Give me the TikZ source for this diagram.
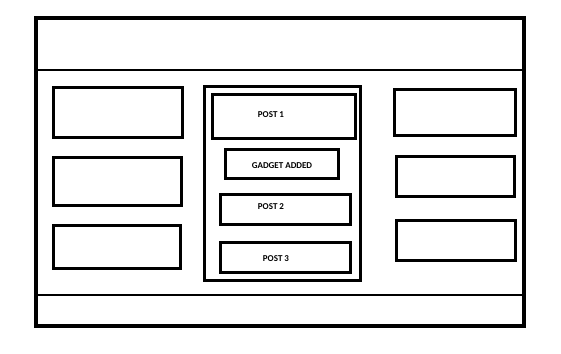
\documentclass[tikz,border=0pt]{standalone}
\usepackage{fontspec}
\setmainfont{Carlito}
\begin{document}
\begin{tikzpicture}[x=1pt,y=-1pt,
  box/.style={draw=black,line width=3pt,rectangle,inner sep=0pt,outer sep=0pt},
  frame/.style={draw=black,line width=3.5pt,rectangle,inner sep=0pt,outer sep=0pt},
  sep/.style={draw=black,line width=2.5pt},
  lbl/.style={font=\fontsize{9}{10}\selectfont\bfseries,inner sep=0pt}]
\useasboundingbox (0,0) rectangle (561,353);
% outer frame
\node[frame,minimum width=488pt,minimum height=308pt] (outer) at (280,172) {};
\coordinate (hl) at (36,70); \coordinate (hr) at (524,70);
\coordinate (fl) at (36,295); \coordinate (fr) at (524,295);
\draw[sep] (hl) -- (hr);
\draw[sep] (fl) -- (fr);
% left column
\node[box,minimum width=129pt,minimum height=50pt] (l1) at (118,112.5) {};
\node[box,minimum width=128pt,minimum height=48pt] (l2) at (117.5,181.5) {};
\node[box,minimum width=127pt,minimum height=43pt] (l3) at (117,247) {};
% centre column
\node[box,line width=2.5pt,minimum width=156pt,minimum height=194pt] (cc) at (282.5,183.5) {};
\node[box,minimum width=143pt,minimum height=44pt] (p1) at (284,116.5) {};
\node[box,minimum width=113pt,minimum height=29pt] (g) at (282,164) {};
\node[box,minimum width=130pt,minimum height=30pt] (p2) at (285.5,209.5) {};
\node[box,minimum width=130pt,minimum height=30pt] (p3) at (285.5,257.5) {};
\node[lbl] (tp1) at (271,114.5) {POST 1};
\node[lbl] (tg) at (282,166) {GADGET ADDED};
\node[lbl] (tp2) at (271,207) {POST 2};
\node[lbl] (tp3) at (276,259) {POST 3};
% right column
\node[box,minimum width=121pt,minimum height=46pt] (r1) at (455,112.5) {};
\node[box,minimum width=118pt,minimum height=40pt] (r2) at (455.5,176.5) {};
\node[box,minimum width=119pt,minimum height=40pt] (r3) at (456,240.5) {};
\end{tikzpicture}
\end{document}
